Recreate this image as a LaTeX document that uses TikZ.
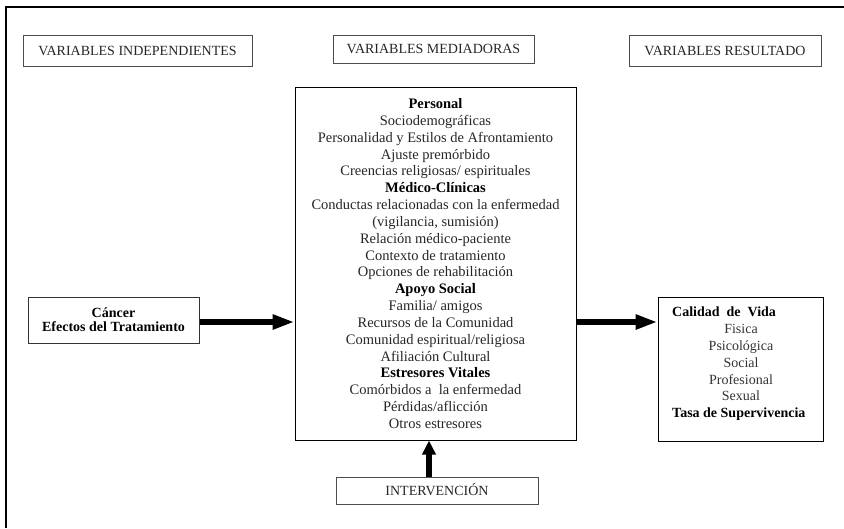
\documentclass[tikz,border=0pt]{standalone}
\usepackage{fontspec}
\setmainfont{Liberation Serif}
\usetikzlibrary{arrows.meta}
\begin{document}
\begin{tikzpicture}[x=1pt,y=-1pt,
  hdr/.style={draw=black!70, line width=0.9pt, font=\fontsize{14}{16}\selectfont, text=black!85, inner sep=0pt, text height=9.3pt, text depth=0pt},
  bigbox/.style={draw=black, line width=1pt, inner sep=0pt},
  fatarrow/.style={line width=6.5pt, -{Triangle[length=22pt,width=14pt]}},
  uparrow/.style={line width=6pt, -{Triangle[length=14pt,width=13pt]}},
  item/.style={anchor=base, inner sep=0pt, font=\fontsize{14}{16}\selectfont, text=black!80},
  lhead/.style={anchor=base west, inner sep=0pt, font=\fontsize{14}{16}\selectfont\bfseries},
]
\useasboundingbox (0,0) rectangle (844,528);
% outer frame (left and top edges)
\coordinate (fbl) at (6,528);
\coordinate (ftl) at (6,7);
\coordinate (ftr) at (844,7);
\draw[line width=1.5pt] (fbl) -- (ftl) -- (ftr);

% headers
\node[hdr, minimum width=229pt, minimum height=31pt] (vi) at (137.5,50.5) {VARIABLES INDEPENDIENTES};
\node[hdr, minimum width=201pt, minimum height=28pt] (vm) at (433.5,49) {VARIABLES MEDIADORAS};
\node[hdr, minimum width=192pt, minimum height=31pt] (vr) at (725,50.5) {VARIABLES RESULTADO};

% left box
\node[bigbox, draw=black!80, minimum width=171pt, minimum height=46pt, align=center,
      font=\fontsize{14}{14}\selectfont\bfseries] (can) at (113.5,320)
  {Cáncer\\Efectos del Tratamiento};

% mediator box
\node[bigbox, minimum width=281pt, minimum height=353pt, align=center,
      font=\fontsize{14.5}{16.84}\selectfont] (med) at (435.5,263.5)
  {\textbf{Personal}\\
   \textcolor{black!85}{Sociodemográficas}\\
   \textcolor{black!85}{Personalidad y Estilos de Afrontamiento}\\
   \textcolor{black!85}{Ajuste premórbido}\\
   \textcolor{black!85}{Creencias religiosas/ espirituales}\\
   \textbf{Médico-Clínicas}\\
   \textcolor{black!85}{Conductas relacionadas con la enfermedad}\\
   \textcolor{black!85}{(vigilancia, sumisión)}\\
   \textcolor{black!85}{Relación médico-paciente}\\
   \textcolor{black!85}{Contexto de tratamiento}\\
   \textcolor{black!85}{Opciones de rehabilitación}\\
   \textbf{Apoyo Social}\\
   \textcolor{black!85}{Familia/ amigos}\\
   \textcolor{black!85}{Recursos de la Comunidad}\\
   \textcolor{black!85}{Comunidad espiritual/religiosa}\\
   \textcolor{black!85}{Afiliación Cultural}\\
   \textbf{Estresores Vitales}\\
   \textcolor{black!85}{Comórbidos a\ \ la enfermedad}\\
   \textcolor{black!85}{Pérdidas/aflicción}\\
   \textcolor{black!85}{Otros estresores}};

% result box
\node[bigbox, minimum width=165pt, minimum height=144pt] (res) at (740.5,369) {};
\node[lhead] (cal) at (672,316.7) {Calidad\hspace{0.5em}de\hspace{0.5em}Vida};
\node[item] (r1) at (741,333.5) {Fisica};
\node[item] (r2) at (741,350.3) {Psicológica};
\node[item] (r3) at (741,367.1) {Social};
\node[item] (r4) at (741,384) {Profesional};
\node[item] (r5) at (741,400.8) {Sexual};
\node[lhead] (tasa) at (672,417.6) {Tasa de Supervivencia};

% intervention box
\node[hdr, minimum width=202pt, minimum height=27pt] (int) at (437,490.5) {INTERVENCIÓN};

% arrows
\coordinate (ay) at (0,322);
\coordinate (ax) at (429,0);
\draw[fatarrow] (can.east |- ay) -- (med.west |- ay);
\draw[fatarrow] (med.east |- ay) -- (res.west |- ay);
\draw[uparrow] (ax |- int.north) -- (ax |- med.south);
\end{tikzpicture}
\end{document}
